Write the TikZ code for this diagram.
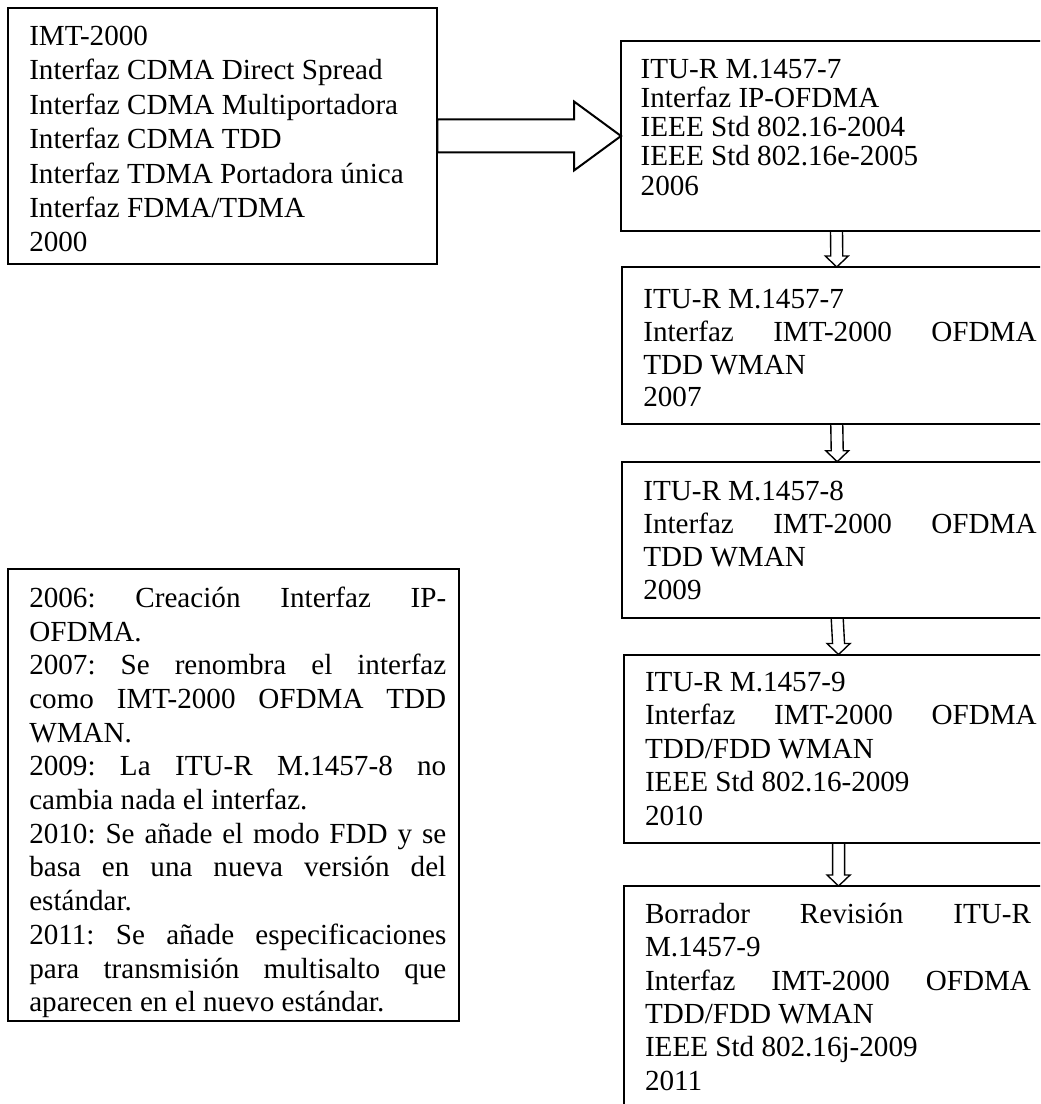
\documentclass[tikz,border=0pt]{standalone}
\usepackage{fontspec}
\setmainfont{Liberation Serif}
\usetikzlibrary{calc}
% justified line: spaces stretched to the full text width
\newcommand{\J}[1]{\makebox[\linewidth][s]{#1}}
% text block: width, line pitch, lines
\newcommand{\bxt}[3]{\parbox[t]{#1}{\fontsize{11.65pt}{#2}\selectfont\frenchspacing\lineskiplimit=-\maxdimen #3}}
\begin{document}
\begin{tikzpicture}[x=0.4pt,y=-0.4pt,
  box/.style={draw, line width=0.8pt, rectangle, inner sep=0pt, outer sep=0pt, anchor=north west},
  txt/.style={anchor=base west, inner sep=0pt, outer sep=0pt},
  bigarrow/.style={draw, line width=0.8pt, line join=miter},
  smallarrow/.style={draw, line width=0.55pt, line join=miter}]
\useasboundingbox (0,0) rectangle (1040,1104);
\clip (0,0) rectangle (1040,1104);

% boxes
\node[box, minimum width=171.6pt, minimum height=102.4pt] (b1) at (8.3,8) {};
\node[box, minimum width=172.4pt, minimum height=76pt]    (b2) at (621,41) {};
\node[box, minimum width=172.2pt, minimum height=62.8pt]  (b3) at (621.5,267) {};
\node[box, minimum width=172.4pt, minimum height=62.64pt] (b4) at (621.7,461.7) {};
\node[box, minimum width=171.4pt, minimum height=75.52pt] (b5) at (624.3,654.5) {};
\node[box, minimum width=171.4pt, minimum height=96pt]    (b6) at (624.3,886) {};
\node[box, minimum width=180.4pt, minimum height=180.8pt] (bL) at (8.3,569) {};

% texts
\node[txt] (t1) at (29.3,45.5) {\bxt{180pt}{13.76pt}{%
IMT-2000\\
Interfaz CDMA Direct Spread\\
Interfaz CDMA Multiportadora\\
Interfaz CDMA TDD\\
Interfaz TDMA Portadora única\\
Interfaz FDMA/TDMA\\
2000}};

\node[txt] (t2) at (640.7,78.3) {\bxt{160pt}{11.68pt}{%
ITU-R M.1457-7\\
Interfaz IP-OFDMA\\
IEEE Std 802.16-2004\\
IEEE Std 802.16e-2005\\
2006}};

\node[txt] (t3) at (643.3,309) {\bxt{157.3pt}{13.0pt}{%
ITU-R M.1457-7\\
\J{Interfaz IMT-2000 OFDMA}\\
TDD WMAN\\
2007}};

\node[txt] (t4) at (643.3,500) {\bxt{157.3pt}{13.32pt}{%
ITU-R M.1457-8\\
\J{Interfaz IMT-2000 OFDMA}\\
TDD WMAN\\
2009}};

\node[txt] (t5) at (645,691) {\bxt{156.7pt}{13.4pt}{%
ITU-R M.1457-9\\
\J{Interfaz IMT-2000 OFDMA}\\
TDD/FDD WMAN\\
IEEE Std 802.16-2009\\
2010}};

\node[txt] (t6) at (645,923.3) {\bxt{154.4pt}{13.34pt}{%
\J{Borrador Revisión ITU-R}\\
M.1457-9\\
\J{Interfaz IMT-2000 OFDMA}\\
TDD/FDD WMAN\\
IEEE Std 802.16j-2009\\
2011}};

\node[txt] (tL) at (29.3,607.3) {\bxt{166.8pt}{13.48pt}{%
\J{2006: Creación Interfaz IP-}\\
OFDMA.\\
\J{2007: Se renombra el interfaz}\\
\J{como IMT-2000 OFDMA TDD}\\
WMAN.\\
\J{2009: La ITU-R M.1457-8 no}\\
cambia nada el interfaz.\\
\J{2010: Se añade el modo FDD y se}\\
\J{basa en una nueva versión del}\\
estándar.\\
\J{2011: Se añade especificaciones}\\
\J{para transmisión multisalto que}\\
aparecen en el nuevo estándar.}};

% block arrow from the first box to the second
\draw[bigarrow] ($(b1.east)+(0,-16.5)$) -- ($(b2.west)+(-47,-16.5)$)
  -- ($(b2.west)+(-47,-34.5)$) -- (b2.west) -- ($(b2.west)+(-47,34.5)$)
  -- ($(b2.west)+(-47,16.5)$) -- ($(b1.east)+(0,16.5)$) -- cycle;

% hollow down arrows between the stacked boxes
\newcommand{\hollowdown}[2]{%
  \draw[smallarrow] ($(#1.south)+(-6,0)$) -- ($(#2.north)+(-6,-11)$)
    -- ($(#2.north)+(-11.5,-11)$) -- (#2.north) -- ($(#2.north)+(11.5,-11)$)
    -- ($(#2.north)+(6,-11)$) -- ($(#1.south)+(6,0)$);}
\hollowdown{b2}{b3}
\hollowdown{b3}{b4}
\hollowdown{b4}{b5}
\hollowdown{b5}{b6}
\end{tikzpicture}
\end{document}
